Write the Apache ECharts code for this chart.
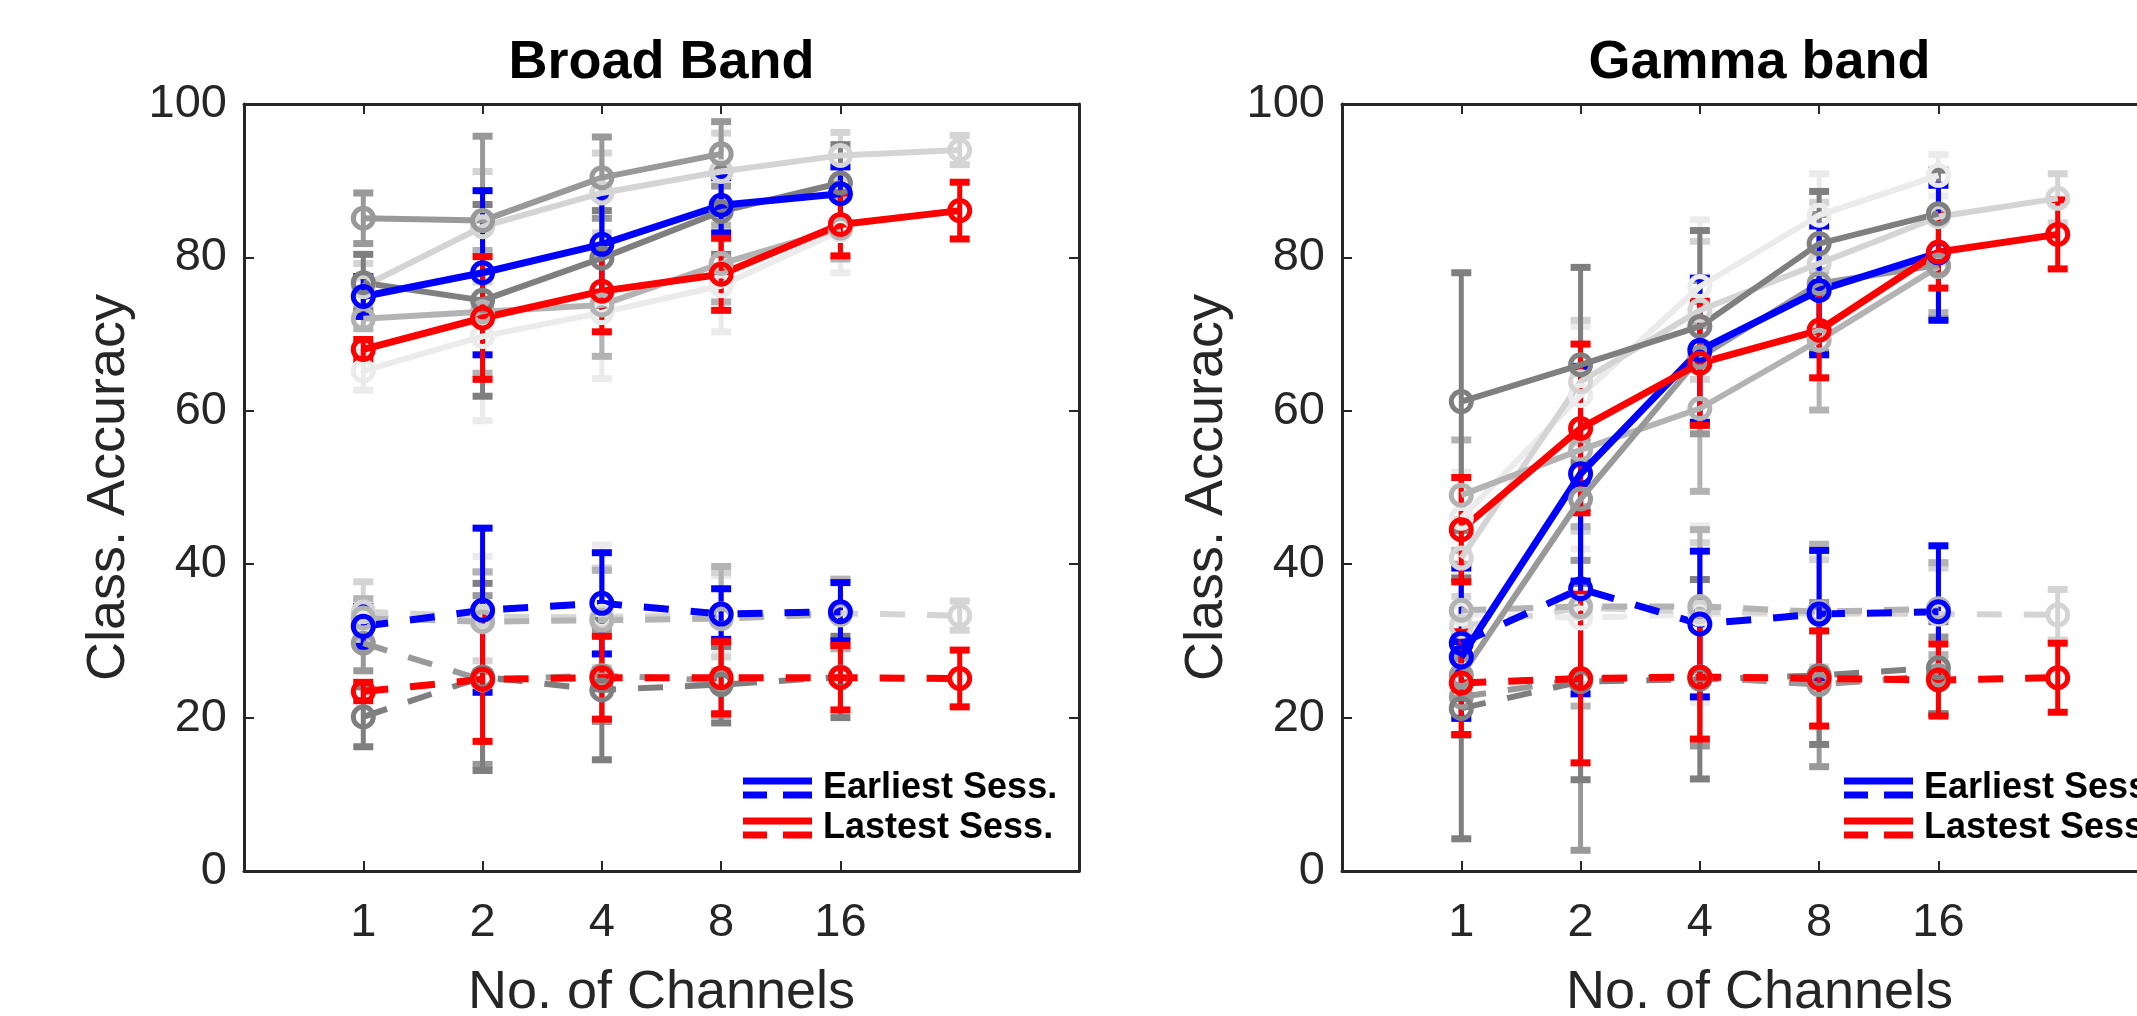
<!DOCTYPE html>
<html>
<head>
<meta charset="utf-8">
<title>Class. Accuracy vs No. of Channels</title>
<script src="https://cdn.jsdelivr.net/npm/echarts@6/dist/echarts.min.js"></script>
<style>
  html, body { margin: 0; padding: 0; background: #fff; }
  #chart { width: 2137px; height: 1016px; }
</style>
</head>
<body>
<div id="chart"></div>
<script>
// x slots: 1, 2, 4, 8, 16 channels, then all channels (no tick label)
const xPos = [1, 2, 3, 4, 5, 6];
const xTickLabels = ['1', '2', '4', '8', '16'];
const xTickSlots = [1, 2, 3, 4, 5];

// grays for the intermediate sessions, darkest first
const grayShades = ['#7f7f7f', '#999999', '#b3b3b3', '#d4d4d4', '#ebebeb'];

// ---- Broad Band ----
// earliest / latest session, classification accuracy and chance level (mean, +-err)
const bbEarly = [74.9, 78.0, 81.7, 86.8, 88.3];
const bbEarlyErr = [2.6, 10.7, 6.3, 3.6, 3.5];
const bbEarlyChance = [31.9, 34.0, 34.9, 33.5, 33.8];
const bbEarlyChanceErr = [2.6, 10.7, 6.6, 3.3, 3.8];
const bbLate = [68.0, 72.1, 75.6, 77.8, 84.3, 86.1];
const bbLateErr = [1.3, 8.0, 5.3, 4.7, 4.1, 3.7];
const bbLateChance = [23.4, 25.0, 25.2, 25.2, 25.2, 25.1];
const bbLateChanceErr = [1.2, 8.1, 5.4, 4.7, 4.2, 3.7];
// intermediate sessions (S2 darkest ... S6 lightest)
const bbS2 = [76.7, 74.4, 79.9, 86.0, 89.7];
const bbS2Err = [3.7, 12.5, 6.2, 5.6, 5.0];
const bbS2Chance = [20.1, 25.3, 23.6, 24.3, 25.3];
const bbS2ChanceErr = [3.9, 12.2, 9.1, 5.0, 5.3];
const bbS3 = [85.1, 84.8, 90.4, 93.5];
const bbS3Err = [3.3, 11.0, 5.3, 4.2];
const bbS3Chance = [29.7, 24.9, 25.5, 24.8];
const bbS3ChanceErr = [3.6, 11.0, 6.0, 4.5];
const bbS4 = [72.0, 72.9, 73.8, 79.2, 83.8];
const bbS4Err = [1.3, 8.0, 6.7, 5.0, 4.0];
const bbS4Chance = [33.0, 32.5, 32.7, 32.9, 33.5];
const bbS4ChanceErr = [2.5, 6.5, 6.5, 6.8, 4.5];
const bbS5 = [76.2, 84.0, 88.4, 91.2, 93.3, 94.0];
const bbS5Err = [3.0, 7.2, 5.2, 5.0, 3.0, 1.9];
const bbS5Chance = [33.8, 33.2, 33.0, 33.4, 33.6, 33.3];
const bbS5ChanceErr = [3.9, 5.8, 6.5, 5.5, 4.5, 1.9];
const bbS6 = [65.2, 69.7, 72.8, 76.3, 83.5];
const bbS6Err = [2.5, 11.0, 8.6, 6.0, 5.5];
const bbS6Chance = [32.5, 33.0, 33.2, 33.5, 33.4];
const bbS6ChanceErr = [3.0, 8.0, 9.3, 5.0, 4.5];

// ---- Gamma band ----
const gbEarly = [27.9, 51.8, 67.9, 75.7, 80.6];
const gbEarlyErr = [2.0, 14.0, 9.4, 8.4, 8.8];
const gbEarlyChance = [29.7, 36.8, 32.2, 33.5, 33.8];
const gbEarlyChanceErr = [9.8, 13.7, 9.5, 8.3, 8.6];
const gbLate = [44.5, 57.7, 66.2, 70.5, 80.7, 83.0];
const gbLateErr = [6.8, 11.0, 8.1, 6.2, 4.7, 4.5];
const gbLateChance = [24.5, 25.1, 25.3, 25.1, 24.9, 25.2];
const gbLateChanceErr = [6.7, 11.0, 8.1, 6.2, 4.7, 4.5];
const gbS2 = [61.2, 66.0, 71.0, 81.8, 85.7];
const gbS2Err = [16.8, 12.7, 12.5, 6.8, 5.7];
const gbS2Chance = [21.2, 24.7, 25.0, 25.5, 26.5];
const gbS2ChanceErr = [17.0, 12.8, 13.0, 9.0, 6.0];
const gbS3 = [25.5, 48.5, 67.0, 76.6, 79.0];
const gbS3Err = [3.0, 8.0, 10.0, 9.0, 7.0];
const gbS3Chance = [22.7, 25.0, 25.3, 24.3, 25.5];
const gbS3ChanceErr = [5.0, 22.3, 9.0, 10.7, 5.0];
const gbS4 = [49.0, 54.9, 60.3, 69.2, 78.8];
const gbS4Err = [7.2, 10.0, 10.8, 9.1, 6.0];
const gbS4Chance = [34.0, 34.5, 34.5, 33.8, 34.2];
const gbS4ChanceErr = [6.0, 13.0, 10.0, 8.8, 6.0];
const gbS5 = [40.8, 63.8, 73.1, 79.2, 85.3, 87.7];
const gbS5Err = [5.0, 8.0, 9.0, 8.0, 6.0, 3.2];
const gbS5Chance = [31.9, 34.3, 33.8, 33.6, 33.5, 33.4];
const gbS5ChanceErr = [6.0, 10.0, 9.0, 7.0, 6.0, 3.3];
const gbS6 = [46.0, 62.0, 76.2, 85.5, 90.7];
const gbS6Err = [6.0, 9.0, 8.7, 5.4, 2.7];
const gbS6Chance = [33.5, 33.0, 33.5, 33.5, 34.0];
const gbS6ChanceErr = [5.0, 9.0, 11.5, 8.0, 6.0];

const FONT = '"Liberation Sans", Arial, Helvetica, sans-serif';
const AXIS_COLOR = '#262626';
const DASH = [25, 22];
const LEGEND_ICON = 'path://M0,0H69V7H0Z M0,14H24V21H0Z M40,14H69V21H40Z';

// panel boxes (pixels), the right one runs past the page edge like the original
const panelLeft = [244, 1342];
const panelTop = 104;
const panelWidth = 835;
const panelHeight = 767;

function points (vals, errs) {
  return vals.map((v, i) => [xPos[i], v, errs[i]]);
}

// vertical error bar with caps, placed through the axes
function errorBar (api, color) {
  const x = api.value(0);
  const y = api.value(1);
  const e = api.value(2);
  const top = api.coord([x, y + e]);
  const bot = api.coord([x, y - e]);
  const half = 10;
  return {
    type: 'group',
    children: [
      {type: 'line', shape: {x1: top[0], y1: top[1], x2: bot[0], y2: bot[1]}, style: {stroke: color, lineWidth: 5}},
      {type: 'line', shape: {x1: top[0] - half, y1: top[1], x2: top[0] + half, y2: top[1]}, style: {stroke: color, lineWidth: 7}},
      {type: 'line', shape: {x1: bot[0] - half, y1: bot[1], x2: bot[0] + half, y2: bot[1]}, style: {stroke: color, lineWidth: 7}}
    ]
  };
}

const series = [];

function addTrace (panel, name, color, vals, errs, dashed, width) {
  const axis = panel * 2;
  series.push({
    type: 'custom',
    xAxisIndex: axis,
    yAxisIndex: axis,
    silent: true,
    data: points(vals, errs),
    renderItem: (params, api) => errorBar(api, color)
  });
  series.push({
    type: 'line',
    name: name,
    xAxisIndex: axis,
    yAxisIndex: axis,
    silent: true,
    emphasis: {disabled: true},
    data: points(vals, errs).map(p => [p[0], p[1]]),
    symbol: 'circle',
    symbolSize: 20,
    itemStyle: {color: 'rgba(0,0,0,0)', borderColor: color, borderWidth: 5},
    lineStyle: {color: color, width: width, type: dashed ? DASH : 'solid', cap: 'butt', join: 'round'}
  });
}

function addSession (panel, name, color, acc, accErr, chance, chanceErr, width) {
  addTrace(panel, name, color, acc, accErr, false, width);
  addTrace(panel, name + ' chance', color, chance, chanceErr, true, width);
}

// back to front: lightest gray first, then earliest (blue), latest (red)
addSession(0, 'BB S6', grayShades[4], bbS6, bbS6Err, bbS6Chance, bbS6ChanceErr, 6);
addSession(0, 'BB S5', grayShades[3], bbS5, bbS5Err, bbS5Chance, bbS5ChanceErr, 6);
addSession(0, 'BB S4', grayShades[2], bbS4, bbS4Err, bbS4Chance, bbS4ChanceErr, 6);
addSession(0, 'BB S3', grayShades[1], bbS3, bbS3Err, bbS3Chance, bbS3ChanceErr, 6);
addSession(0, 'BB S2', grayShades[0], bbS2, bbS2Err, bbS2Chance, bbS2ChanceErr, 6);
addTrace(0, 'Earliest Sess.', '#0000ff', bbEarly, bbEarlyErr, false, 7);
addTrace(0, 'Earliest chance', '#0000ff', bbEarlyChance, bbEarlyChanceErr, true, 7);
addTrace(0, 'Lastest Sess.', '#ff0000', bbLate, bbLateErr, false, 7);
addTrace(0, 'Lastest chance', '#ff0000', bbLateChance, bbLateChanceErr, true, 7);

addSession(1, 'GB S6', grayShades[4], gbS6, gbS6Err, gbS6Chance, gbS6ChanceErr, 6);
addSession(1, 'GB S5', grayShades[3], gbS5, gbS5Err, gbS5Chance, gbS5ChanceErr, 6);
addSession(1, 'GB S4', grayShades[2], gbS4, gbS4Err, gbS4Chance, gbS4ChanceErr, 6);
addSession(1, 'GB S3', grayShades[1], gbS3, gbS3Err, gbS3Chance, gbS3ChanceErr, 6);
addSession(1, 'GB S2', grayShades[0], gbS2, gbS2Err, gbS2Chance, gbS2ChanceErr, 6);
addTrace(1, 'Earliest Sess.', '#0000ff', gbEarly, gbEarlyErr, false, 7);
addTrace(1, 'Earliest chance', '#0000ff', gbEarlyChance, gbEarlyChanceErr, true, 7);
addTrace(1, 'Lastest Sess.', '#ff0000', gbLate, gbLateErr, false, 7);
addTrace(1, 'Lastest chance', '#ff0000', gbLateChance, gbLateChanceErr, true, 7);

const tickStyle = {inside: true, length: 10, lineStyle: {color: AXIS_COLOR, width: 2}};
const lineStyle = {show: true, onZero: false, lineStyle: {color: AXIS_COLOR, width: 3}};
const labelStyle = {fontFamily: FONT, fontSize: 47, color: AXIS_COLOR};

const grids = [];
const xAxes = [];
const yAxes = [];
[0, 1].forEach(i => {
  grids.push({left: panelLeft[i], top: panelTop, width: panelWidth, height: panelHeight, outerBoundsMode: 'none', containLabel: false});
  xAxes.push({
    type: 'value', gridIndex: i, position: 'bottom', min: 0, max: 7, interval: 1,
    axisLine: lineStyle,
    axisTick: Object.assign({customValues: xTickSlots}, tickStyle),
    axisLabel: Object.assign({customValues: xTickSlots, margin: 29, formatter: v => xTickLabels[v - 1]}, labelStyle),
    splitLine: {show: false},
    name: 'No. of Channels', nameLocation: 'middle', nameGap: 95,
    nameTextStyle: {fontFamily: FONT, fontSize: 54, color: AXIS_COLOR}
  });
  xAxes.push({
    type: 'value', gridIndex: i, position: 'top', min: 0, max: 7, interval: 1,
    axisLine: lineStyle,
    axisTick: Object.assign({customValues: xTickSlots}, tickStyle),
    axisLabel: {show: false},
    splitLine: {show: false}
  });
  yAxes.push({
    type: 'value', gridIndex: i, position: 'left', min: 0, max: 100, interval: 20,
    axisLine: lineStyle,
    axisTick: tickStyle,
    axisLabel: Object.assign({margin: 17}, labelStyle),
    splitLine: {show: false},
    name: 'Class. Accuracy', nameLocation: 'middle', nameGap: 108, nameRotate: 90,
    nameTextStyle: {fontFamily: FONT, fontSize: 54, color: AXIS_COLOR}
  });
  yAxes.push({
    type: 'value', gridIndex: i, position: 'right', min: 0, max: 100, interval: 20,
    axisLine: lineStyle,
    axisTick: tickStyle,
    axisLabel: {show: false},
    splitLine: {show: false}
  });
});

function legendFor (left) {
  return {
    left: left, top: 768, orient: 'vertical', padding: 0,
    itemWidth: 69, itemHeight: 21, itemGap: 0,
    selectedMode: false,
    icon: LEGEND_ICON,
    textStyle: {fontFamily: FONT, fontSize: 36, fontWeight: 'bold', color: '#000', padding: [0, 0, 0, 6], lineHeight: 40},
    data: [
      {name: 'Earliest Sess.', itemStyle: {color: '#0000ff', borderWidth: 0}},
      {name: 'Lastest Sess.', itemStyle: {color: '#ff0000', borderWidth: 0}}
    ]
  };
}

const chart = echarts.init(document.getElementById('chart'));
chart.setOption({
  animation: false,
  backgroundColor: '#fff',
  title: [
    {text: 'Broad Band', left: panelLeft[0] + panelWidth / 2, top: 63, padding: 0, textAlign: 'center', textVerticalAlign: 'middle',
      textStyle: {fontFamily: FONT, fontSize: 54, fontWeight: 'bold', color: '#000'}},
    {text: 'Gamma band', left: panelLeft[1] + panelWidth / 2, top: 63, padding: 0, textAlign: 'center', textVerticalAlign: 'middle',
      textStyle: {fontFamily: FONT, fontSize: 54, fontWeight: 'bold', color: '#000'}}
  ],
  legend: [legendFor(743), legendFor(1844)],
  grid: grids,
  xAxis: xAxes,
  yAxis: yAxes,
  series: series
});
</script>
</body>
</html>
